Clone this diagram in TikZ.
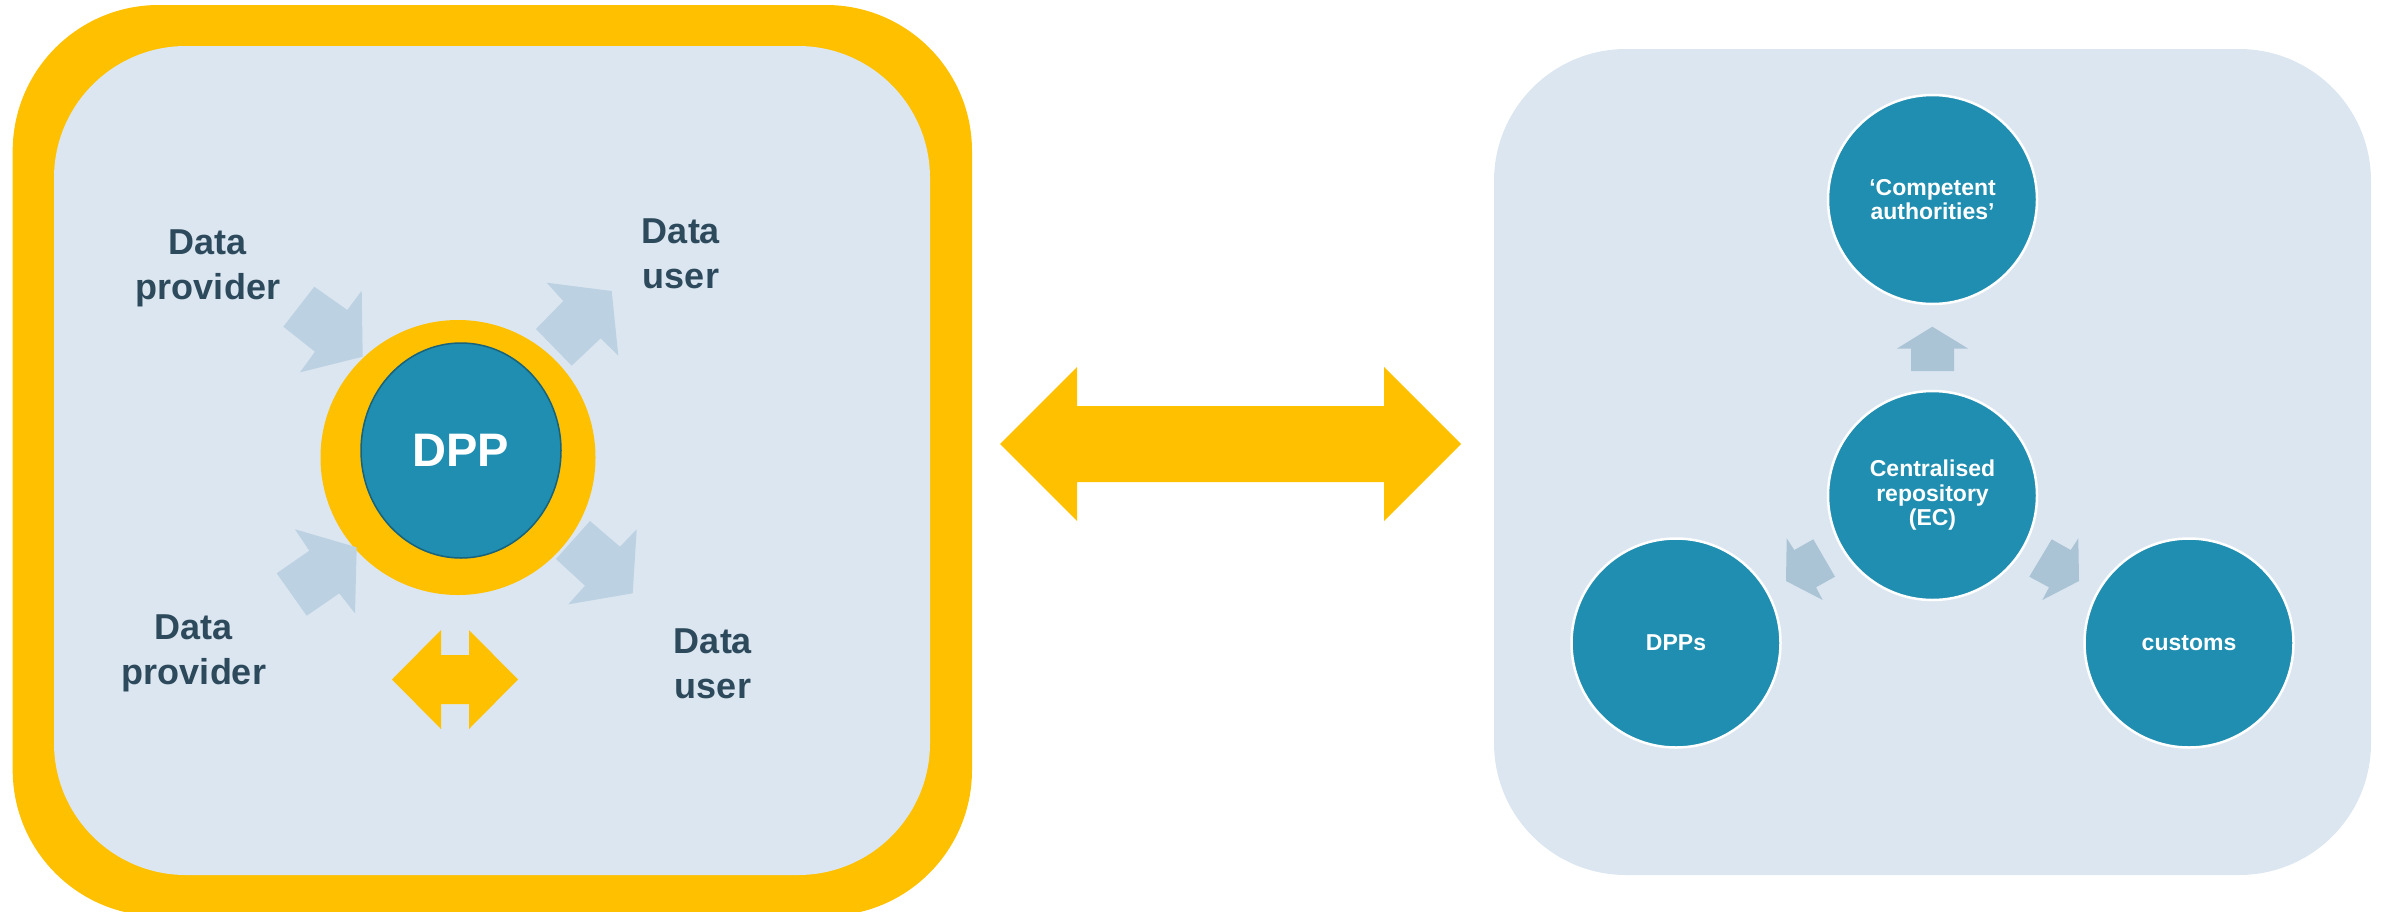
\documentclass[tikz,border=0pt]{standalone}
\usepackage{fontspec}
\setmainfont{Liberation Sans}
\usetikzlibrary{shapes.geometric}
\definecolor{dppyellow}{HTML}{FFC000}
\definecolor{panelbg}{HTML}{DCE6F0}
\definecolor{softarrow}{HTML}{BCD1E2}
\definecolor{repoarrow}{HTML}{ABC4D5}
\definecolor{tealfill}{HTML}{1F8EB0}
\definecolor{tealedge}{HTML}{17627C}
\definecolor{labeltext}{HTML}{2D4A5C}
\begin{document}
\begin{tikzpicture}[x=1pt,y=-1pt,
  roletext/.style={text=labeltext, font=\fontsize{36}{45}\selectfont\bfseries, align=center, inner sep=0pt},
  bubble/.style={circle, fill=tealfill, draw=white, line width=2.5pt, minimum size=209pt, inner sep=0pt, text=white, align=center, font=\fontsize{23}{24.5}\selectfont\bfseries},
  flowarrow/.style={fill=softarrow},
  repoflow/.style={fill=repoarrow},
  exchange/.style={fill=dppyellow}
]
\useasboundingbox (0,0) rectangle (2382,911);
\clip (0,0) rectangle (2382,911);

% left panel with thick yellow frame
\fill[dppyellow, rounded corners=146pt] (12.7,5) rectangle (972,916);
\fill[panelbg, rounded corners=132pt] (54,46) rectangle (930,875);
% right panel
\fill[panelbg, rounded corners=132pt] (1494,49) rectangle (2371,875);

% big exchange arrow between panels
\coordinate (bigL) at (1000,444);
\coordinate (bigR) at (1461,444);
\fill[exchange] (bigL) -- (1077,367) -- (1077,406) -- (1384,406) -- (1384,367) -- (bigR) -- (1384,521) -- (1384,482) -- (1077,482) -- (1077,521) -- cycle;

% DPP hub
\node[circle, fill=dppyellow, minimum size=275pt, inner sep=0pt] (dppring) at (458,457.5) {};
\node[ellipse, fill=tealfill, draw=tealedge, line width=1.5pt, minimum width=200pt, minimum height=215pt, inner sep=0pt, text=white, font=\fontsize{47}{50}\selectfont\bfseries] (dpp) at (461,450.5) {DPP};

% flow arrows around DPP
\fill[flowarrow] (314.3,286.7) -- (347.3,310) -- (361.7,290.7) -- (362.7,356.7) -- (300,372.3) -- (315,351.7) -- (283.3,326.7) -- cycle;
\fill[flowarrow] (546.7,282.7) -- (611.7,291) -- (618.3,355.7) -- (600.7,338.3) -- (571.7,365.7) -- (536,329) -- (563.3,301) -- cycle;
\fill[flowarrow] (295,529.3) -- (356.7,547.3) -- (355,613.3) -- (339.3,593.3) -- (306.7,615.7) -- (276.7,573.3) -- (309.3,550.7) -- cycle;
\fill[flowarrow] (590,521) -- (620,546.7) -- (636.7,529.3) -- (632.7,593.3) -- (568.3,604.3) -- (585,585.7) -- (556,559) -- cycle;

% small exchange arrow
\fill[exchange] (392,679.5) -- (441,630) -- (441,655) -- (469,655) -- (469,630) -- (518,679.5) -- (469,729) -- (469,704) -- (441,704) -- (441,729) -- cycle;

% labels
\node[roletext] (provider1) at (208,268.3) {Data\\provider};
\node[roletext] (user1) at (681,254) {Data\\user};
\node[roletext] (provider2) at (194,653.8) {Data\\provider};
\node[roletext] (user2) at (713,663.5) {Data\\user};

% right panel circles
\node[bubble] (authorities) at (1932.5,199.5) {‘Competent\\authorities’};
\node[bubble] (repo) at (1932.5,495.5) {Centralised\\repository\\(EC)};
\node[bubble] (dpps) at (1676,643) {DPPs};
\node[bubble] (customs) at (2189,643) {customs};

% repository arrows
\fill[repoflow] (1932.3,326.7) -- (1968.3,348.7) -- (1954,348.7) -- (1954,371) -- (1911,371) -- (1911,348.7) -- (1896.7,348.7) -- cycle;
\fill[repoflow] (1786.7,538.3) -- (1794.3,550) -- (1813.3,539.3) -- (1835,576.7) -- (1816,587.3) -- (1822.7,600) -- (1786,581) -- cycle;
\fill[repoflow] (2078.3,538.3) -- (2070.7,550) -- (2051.7,539.3) -- (2029.3,576.7) -- (2049,587.3) -- (2042.3,600) -- (2079,581) -- cycle;
\end{tikzpicture}
\end{document}
